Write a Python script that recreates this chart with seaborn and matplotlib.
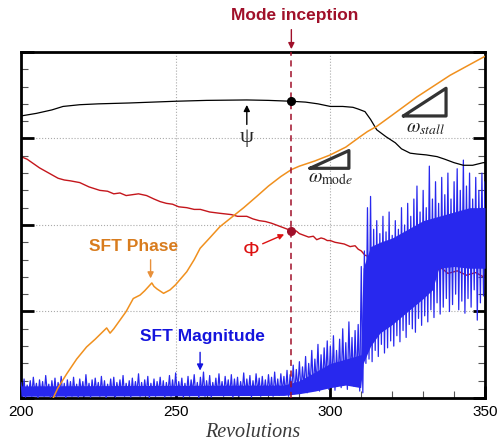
import numpy as np
import pandas as pd
import matplotlib
matplotlib.use("Agg")
import matplotlib.pyplot as plt
import seaborn as sns
from matplotlib.ticker import MultipleLocator

# values (y in arbitrary units, 0..4)
psi_rev = [200, 205, 210, 213.6, 219, 225, 235, 250, 260, 273, 280, 287.4, 292, 296, 300, 304,
           307.3, 309, 311.2, 313, 315, 318, 321, 323, 325.8, 328, 331, 334.5, 337, 340, 343, 346,
           349.4, 350]
psi_val = [3.26, 3.29, 3.33, 3.37, 3.39, 3.40, 3.41, 3.43, 3.44, 3.445, 3.44, 3.43, 3.42, 3.40,
           3.37, 3.37, 3.36, 3.34, 3.31, 3.22, 3.10, 3.02, 2.95, 2.88, 2.83, 2.82, 2.81, 2.79, 2.76,
           2.72, 2.69, 2.69, 2.72, 2.72]

phi_rev = [200, 202, 204, 206, 208, 210, 212, 214, 216, 219, 222, 225.5, 228, 230, 232, 234, 236,
           238, 240.6, 243, 245, 247, 249, 251, 253.6, 256, 258, 261, 264.3, 268, 270, 273, 275,
           277, 279, 281, 284, 287.4, 289, 290, 291.5, 293, 294.5, 295.6, 297, 298, 299, 300, 301.5,
           303, 304.5, 306.4, 308, 309, 310, 311.2, 313, 316, 320, 325, 330, 333.3, 336, 338, 341,
           344, 347, 349.5, 350]
phi_val = [2.79, 2.76, 2.71, 2.66, 2.62, 2.58, 2.54, 2.52, 2.51, 2.49, 2.44, 2.40, 2.39, 2.36,
           2.37, 2.34, 2.35, 2.36, 2.34, 2.30, 2.27, 2.25, 2.24, 2.21, 2.20, 2.18, 2.18, 2.15,
           2.135, 2.12, 2.10, 2.10, 2.07, 2.05, 2.04, 2.02, 1.98, 1.934, 1.93, 1.90, 1.88, 1.86,
           1.87, 1.83, 1.85, 1.84, 1.82, 1.82, 1.80, 1.79, 1.78, 1.75, 1.76, 1.72, 1.70, 1.65,
           1.63, 1.60, 1.56, 1.52, 1.49, 1.46, 1.50, 1.44, 1.47, 1.42, 1.45, 1.40, 1.42]

phase_rev = [210.4, 212, 214.8, 218, 221.2, 224, 227.7, 228.8, 230, 232, 234, 236.3, 238.5, 240,
             242.3, 243, 244, 246.1, 248.2, 250, 253.6, 256, 257.9, 261, 264.3, 269.2, 272, 276.2,
             280, 284, 287.4, 290, 295, 300, 305, 309.6, 312, 315, 320, 328, 338.7, 350]
phase_val = [0.0, 0.12, 0.28, 0.45, 0.59, 0.68, 0.81, 0.75, 0.80, 0.90, 1.00, 1.15, 1.19, 1.24,
             1.33, 1.29, 1.26, 1.21, 1.25, 1.31, 1.46, 1.60, 1.73, 1.85, 1.98, 2.12, 2.20, 2.33,
             2.45, 2.56, 2.64, 2.68, 2.74, 2.81, 2.90, 3.02, 3.08, 3.14, 3.27, 3.48, 3.73, 3.95]

# SFT magnitude: local peaks (whole revolutions) and troughs (half revolutions)
mag_peak_rev = list(range(200, 351))
mag_peak = [0.18, 0.22, 0.15, 0.20, 0.24, 0.17, 0.21, 0.19, 0.26, 0.16,
            0.20, 0.23, 0.18, 0.25, 0.17, 0.21, 0.19, 0.24, 0.16, 0.22,
            0.19, 0.27, 0.17, 0.21, 0.23, 0.18, 0.25, 0.20, 0.16, 0.22,
            0.24, 0.18, 0.21, 0.26, 0.17, 0.20, 0.23, 0.19, 0.28, 0.18,
            0.21, 0.25, 0.17, 0.22, 0.19, 0.24, 0.20, 0.18, 0.26, 0.21,
            0.29, 0.19, 0.23, 0.17, 0.25, 0.21, 0.27, 0.18, 0.24, 0.30,
            0.20, 0.26, 0.18, 0.23, 0.28, 0.19, 0.25, 0.21, 0.27, 0.22,
            0.24, 0.19, 0.29, 0.22, 0.26, 0.20, 0.28, 0.23, 0.25, 0.21,
            0.27, 0.24, 0.30, 0.22, 0.28, 0.25, 0.32, 0.27, 0.38, 0.33,
            0.42, 0.36, 0.48, 0.40, 0.55, 0.45, 0.62, 0.50, 0.58, 0.66,
            0.60, 0.72, 0.55, 0.68, 0.80, 0.64, 0.88, 0.70, 0.78, 0.85,
            1.52, 1.70, 2.20, 2.33, 1.95, 2.05, 1.90, 2.10, 1.92, 2.15,
            1.88, 2.05, 1.95, 2.20, 2.00, 2.25, 2.10, 2.30, 2.45, 2.15,
            2.40, 2.20, 2.68, 2.30, 2.50, 2.25, 2.55, 2.35, 2.60, 2.30,
            2.50, 2.65, 2.40, 2.75, 2.45, 2.60, 2.30, 2.55, 2.40, 2.60,
            2.50]
mag_trough_rev = [r + 0.5 for r in range(200, 350)]
mag_trough = [0.03, 0.01, 0.05, 0.02, 0.06, 0.00, 0.04, 0.02, 0.07, 0.01,
              0.04, 0.02, 0.06, 0.03, 0.00, 0.05, 0.02, 0.04, 0.01, 0.06,
              0.02, 0.05, 0.01, 0.03, 0.07, 0.02, 0.04, 0.00, 0.05, 0.03,
              0.01, 0.06, 0.03, 0.02, 0.05, 0.01, 0.04, 0.06, 0.02, 0.03,
              0.05, 0.00, 0.04, 0.02, 0.06, 0.03, 0.01, 0.05, 0.02, 0.04,
              0.03, 0.06, 0.01, 0.04, 0.02, 0.07, 0.03, 0.00, 0.05, 0.02,
              0.04, 0.01, 0.06, 0.03, 0.05, 0.02, 0.07, 0.03, 0.01, 0.05,
              0.02, 0.06, 0.03, 0.05, 0.01, 0.04, 0.07, 0.02, 0.05, 0.03,
              0.06, 0.02, 0.05, 0.03, 0.07, 0.04, 0.02, 0.08, 0.05, 0.10,
              0.07, 0.12, 0.06, 0.14, 0.09, 0.16, 0.08, 0.13, 0.18, 0.10,
              0.15, 0.09, 0.20, 0.12, 0.17, 0.10, 0.22, 0.14, 0.18, 0.08,
              0.06, 0.40, 0.45, 0.42, 0.55, 0.48, 0.62, 0.52, 0.58, 0.66,
              0.60, 0.72, 0.65, 0.78, 0.70, 0.85, 0.80, 0.76, 0.92, 0.84,
              0.95, 0.88, 1.02, 0.93, 1.10, 0.97, 1.05, 1.15, 1.00, 1.08,
              1.20, 1.02, 1.12, 0.98, 1.15, 1.05, 1.25, 0.90, 1.10, 1.18]
# solid (unresolved) core of the magnitude trace
mag_core_rev = [200, 285, 290, 295, 300, 305, 309.8, 310.6, 313, 316, 320, 325, 330, 333,
                335, 340, 345, 350]
mag_core_lo = [0.02, 0.03, 0.05, 0.08, 0.12, 0.15, 0.12, 0.40, 0.60, 0.75, 0.85, 1.00, 1.15,
               1.25, 1.50, 1.52, 1.50, 1.50]
mag_core_hi = [0.14, 0.15, 0.20, 0.30, 0.40, 0.45, 0.50, 1.50, 1.75, 1.80, 1.85, 1.95, 2.05,
               2.08, 2.10, 2.15, 2.20, 2.20]

inception_rev = 287.4
psi_at_inception = 3.43
phi_at_inception = 1.934
stall_tri_rev = [323.6, 337.4, 337.4, 323.6]
stall_tri_val = [3.26, 3.26, 3.58, 3.26]
mode_tri_rev = [293.4, 306.0, 306.0, 293.4]
mode_tri_val = [2.655, 2.655, 2.86, 2.655]

# interleave peaks and troughs into one trace
mag_rev, mag_val = [], []
for i in range(len(mag_peak)):
    mag_rev.append(mag_peak_rev[i])
    mag_val.append(mag_peak[i])
    if i < len(mag_trough):
        mag_rev.append(mag_trough_rev[i])
        mag_val.append(mag_trough[i])

psi = pd.DataFrame({"rev": psi_rev, "val": psi_val})
phi = pd.DataFrame({"rev": phi_rev, "val": phi_val})
phase = pd.DataFrame({"rev": phase_rev, "val": phase_val})
mag = pd.DataFrame({"rev": mag_rev, "val": mag_val})

sns.set_theme(style="white")
plt.rcParams["font.family"] = ["Liberation Sans", "DejaVu Sans"]
plt.rcParams["mathtext.fontset"] = "stix"

fig = plt.figure(figsize=(4.99, 4.42), dpi=100)
ax = fig.add_axes([0.042, 0.0995, 0.930, 0.783])

crimson = "#a0102a"
blue = "#2828ee"
sns.lineplot(data=phi, x="rev", y="val", color="#c4161c", lw=1.0, ax=ax,
             sort=False, estimator=None, zorder=2)
ax.fill_between(mag_core_rev, mag_core_lo, mag_core_hi, color=blue, lw=0, zorder=3)
sns.lineplot(data=mag, x="rev", y="val", color=blue, lw=0.9, ax=ax,
             sort=False, estimator=None, zorder=3)
sns.lineplot(data=psi, x="rev", y="val", color="black", lw=0.9, ax=ax,
             sort=False, estimator=None, zorder=4)
sns.lineplot(data=phase, x="rev", y="val", color="#f0901e", lw=1.1, ax=ax,
             sort=False, estimator=None, zorder=4)

ax.axvline(inception_rev, color=crimson, ls=(0, (4, 3)), lw=1.1, zorder=5)
ax.plot([inception_rev], [psi_at_inception], "o", color="black", ms=5.5, zorder=6)
ax.plot([inception_rev], [phi_at_inception], "o", color=crimson, ms=5.5, zorder=6)

# slope triangles
ax.plot(stall_tri_rev, stall_tri_val, color="#333333", lw=2.3, zorder=5)
ax.plot(mode_tri_rev, mode_tri_val, color="#333333", lw=2.3, zorder=5)
ax.text(330.9, 3.12, r"$\omega_{stall}$", fontsize=14, ha="center", va="center", color="#222222")
ax.text(300.2, 2.54, r"$\omega_{\mathrm{mod}e}$", fontsize=14, ha="center", va="center", color="#222222")

# annotations
ax.text(288.6, 4.42, "Mode inception", color=crimson, fontsize=12.5, fontweight="bold",
        ha="center", va="center", clip_on=False)
ax.annotate("", xy=(inception_rev, 4.0), xytext=(inception_rev, 4.29),
            arrowprops=dict(arrowstyle="-|>", color=crimson, lw=1.0, mutation_scale=9),
            annotation_clip=False)

ax.annotate("", xy=(273.0, 3.42), xytext=(273.0, 3.13),
            arrowprops=dict(arrowstyle="-|>", color="black", lw=1.0, mutation_scale=9))
ax.text(273.0, 3.01, "ψ", fontsize=16, ha="center", va="center",
        family=["Liberation Serif", "DejaVu Serif"])

ax.text(274.4, 1.71, "Φ", fontsize=15, ha="center", va="center", color="#dd1111")
ax.annotate("", xy=(285.9, 1.904), xytext=(277.3, 1.77),
            arrowprops=dict(arrowstyle="-|>", color="#dd1111", lw=1.0, mutation_scale=8))

ax.text(236.3, 1.75, "SFT Phase", fontsize=12.5, fontweight="bold", color="#d87c1e",
        ha="center", va="center")
ax.annotate("", xy=(241.9, 1.35), xytext=(241.9, 1.63),
            arrowprops=dict(arrowstyle="-|>", color="#e8903a", lw=1.0, mutation_scale=9))

ax.text(258.7, 0.71, "SFT Magnitude", fontsize=12.5, fontweight="bold", color="#1414dd",
        ha="center", va="center")
ax.annotate("", xy=(257.9, 0.285), xytext=(257.9, 0.56),
            arrowprops=dict(arrowstyle="-|>", color="#1414dd", lw=1.0, mutation_scale=9))

# axes styling
ax.set_xlim(200, 350)
ax.set_ylim(0, 4)
ax.xaxis.set_major_locator(MultipleLocator(50))
ax.xaxis.set_minor_locator(MultipleLocator(10))
ax.yaxis.set_major_locator(MultipleLocator(1))
ax.yaxis.set_minor_locator(MultipleLocator(0.2))
ax.grid(True, which="major", ls=":", color="#aaaaaa", lw=0.8)
ax.tick_params(which="major", direction="in", length=9, width=2, top=False, right=True,
               bottom=True, left=True, labelsize=11, pad=5, labelleft=False, colors="black")
ax.tick_params(which="minor", direction="in", length=5, width=0.8, top=False, right=True,
               bottom=True, left=True, colors="#555555")
for s in ax.spines.values():
    s.set_linewidth(2)
    s.set_color("black")
ax.set_ylabel("")
ax.set_xlabel("Revolutions", fontsize=14.5, style="italic", color="#3a3a3a", labelpad=3,
              family=["Liberation Serif", "DejaVu Serif"])

fig.savefig("out.png", dpi=100)
